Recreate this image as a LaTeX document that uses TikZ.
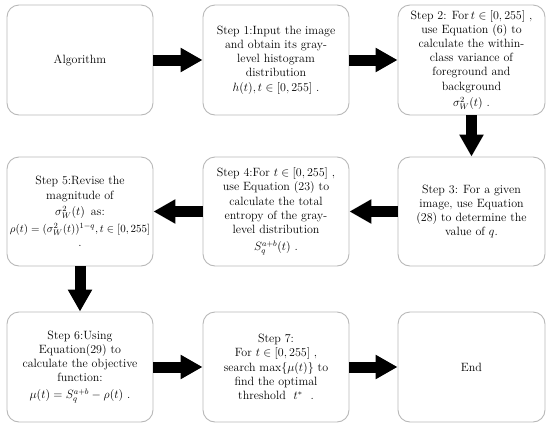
\documentclass[tikz,border=0pt]{standalone}
\usetikzlibrary{arrows.meta}
\begin{document}
\begin{tikzpicture}[x=1pt,y=-1pt,
  stepbox/.style={draw=black!28, line width=0.9pt, rounded corners=12pt, inner sep=0pt,
    minimum width=146pt, minimum height=110pt, align=center,
    font=\fontsize{12}{14.2}\selectfont},
  bigarrow/.style={line width=11pt, -{Triangle[width=23pt,length=22pt]}}]
\useasboundingbox (0,0) rectangle (550,429);
\node[stepbox] (alg) at (80,60) {Algorithm};
\node[stepbox] (s1) at (276,60) {Step 1:Input the image\\ and obtain its gray-\\ level histogram\\ distribution\\ $h(t), t\in[0,255]$ .};
\node[stepbox, minimum width=147pt] (s2) at (471.5,60) {Step 2: For\,$t\in[0,255]$ ,\\ use Equation (6) to\\ calculate the within-\\ class variance of\\ foreground and\\ background\\[2.5pt] $\sigma_W^2(t)$ .};
\node[stepbox, minimum width=147pt, minimum height=109pt] (s3) at (471.5,211.5) {Step 3: For a given\\ image, use Equation\\ (28) to determine the\\ value of $q$.};
\node[stepbox, minimum height=109pt] (s4) at (276,211.5) {Step 4:For $t\in[0,255]$ ,\\ use Equation (23) to\\ calculate the total\\ entropy of the gray-\\ level distribution\\[3pt] $S_q^{a+b}(t)$ .};
\node[stepbox, minimum height=109pt] (s5) at (80,211.5) {Step 5:Revise the\\ magnitude of\\[2.5pt] $\sigma_W^2(t)$\enspace as:\\[2.5pt] {\fontsize{11}{13}\selectfont$\rho(t)=(\sigma_W^2(t))^{1-q}, t\in[0,255]$}\\ .};
\node[stepbox] (s6) at (80,367) {Step 6:Using\\ Equation(29) to\\ calculate the objective\\ function:\\[3pt] $\mu(t)=S_q^{a+b}-\rho(t)$\ .};
\node[stepbox] (s7) at (276,367) {Step 7:\\ For\ $t\in[0,255]$ ,\\ search $\max\{\mu(t)\}$ to\\ find the optimal\\ threshold\ \ $t^*$\ \ .};
\node[stepbox, minimum width=147pt] (end) at (471.5,367) {End};
\draw[bigarrow] (alg.east) -- (s1.west);
\draw[bigarrow] (s1.east) -- (s2.west);
\draw[bigarrow] (s2.south) -- (s3.north);
\draw[bigarrow] (s3.west) -- (s4.east);
\draw[bigarrow] (s4.west) -- (s5.east);
\draw[bigarrow] (s5.south) -- (s6.north);
\draw[bigarrow] (s6.east) -- (s7.west);
\draw[bigarrow] (s7.east) -- (end.west);
\end{tikzpicture}
\end{document}
